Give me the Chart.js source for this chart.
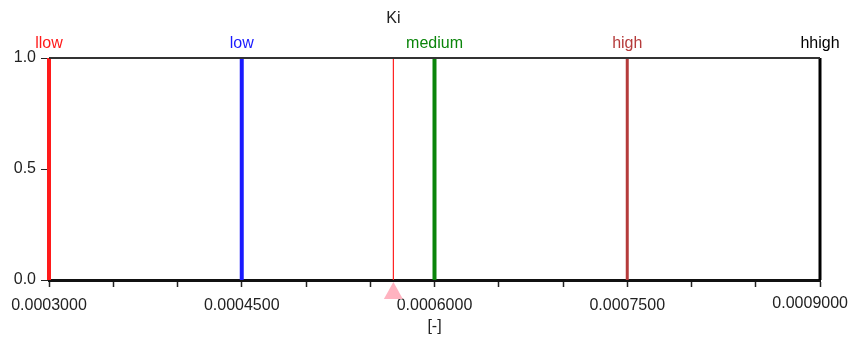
<!DOCTYPE html>
<html>
<head>
<meta charset="utf-8">
<script src="https://cdn.jsdelivr.net/npm/chart.js@4"></script>
<style>
  body { margin: 0; background: #fff; }
  #wrap { width: 850px; height: 338px; }
</style>
</head>
<body>
<div id="wrap"><canvas id="ki-chart"></canvas></div>
<script>
// Ki membership singletons
const setNames = ["llow", "low", "medium", "high", "hhigh"];
const setValues = [0.0003, 0.00045, 0.0006, 0.00075, 0.0009];
const setColors = ["#ff1a1a", "#1a1aff", "#0a850a", "#b53b3b", "#000000"];
const setWidths = [4, 4, 4, 3, 3];

// current value marker
const currentName = "Ki";
const currentValue = 0.000568;

const xMin = 0.0003, xMax = 0.0009, xStep = 0.00005;
const yTicks = [0, 0.5, 1];

const fontFamily = "'Liberation Sans', Arial, sans-serif";

const datasets = setValues.map((v, i) => ({
    label: setNames[i],
    data: [{ x: v, y: 0 }, { x: v, y: 1 }],
    borderColor: setColors[i],
    backgroundColor: setColors[i],
    borderWidth: setWidths[i],
    pointRadius: 0,
    showLine: true,
    clip: false,
}));

datasets.push({
    label: currentName,
    data: [{ x: currentValue, y: 0 }, { x: currentValue, y: 1 }],
    borderColor: "#ff2020",
    borderWidth: 1.2,
    pointRadius: 0,
    showLine: true,
    clip: false,
});

// labels above lines, top border, pink marker, last x label
const labelPlugin = {
    id: "labels",
    afterDraw(chart) {
        const { ctx, chartArea, scales } = chart;
        ctx.save();
        ctx.strokeStyle = "#333";
        ctx.lineWidth = 2;
        ctx.beginPath();
        ctx.moveTo(chartArea.left, chartArea.top);
        ctx.lineTo(chartArea.right, chartArea.top);
        ctx.stroke();

        ctx.font = "16px " + fontFamily;
        ctx.textAlign = "center";
        ctx.textBaseline = "middle";
        setNames.forEach((n, i) => {
            ctx.fillStyle = setColors[i];
            ctx.fillText(n, scales.x.getPixelForValue(setValues[i]), 44);
        });
        ctx.fillStyle = "#222";
        ctx.fillText(currentName, scales.x.getPixelForValue(currentValue), 19);

        // last tick label, pulled inside the canvas
        ctx.textAlign = "right";
        ctx.fillText(xMax.toFixed(7), chart.width - 2, 304);

        // triangle under the axis at the current value
        const cx = scales.x.getPixelForValue(currentValue);
        const yb = scales.y.getPixelForValue(0);
        ctx.fillStyle = "#ffb3c0";
        ctx.beginPath();
        ctx.moveTo(cx, yb + 2);
        ctx.lineTo(cx + 9.5, yb + 19);
        ctx.lineTo(cx - 9.5, yb + 19);
        ctx.closePath();
        ctx.fill();
        ctx.restore();
    }
};

new Chart(document.getElementById("ki-chart"), {
    type: "scatter",
    data: { datasets },
    options: {
        responsive: true,
        maintainAspectRatio: false,
        animation: false,
        layout: { padding: { top: 58, right: 30, left: 0, bottom: 0 } },
        plugins: { legend: { display: false }, tooltip: { enabled: false } },
        scales: {
            x: {
                type: "linear",
                min: xMin,
                max: xMax,
                ticks: {
                    stepSize: xStep,
                    autoSkip: false,
                    maxRotation: 0,
                    padding: 9,
                    color: "#222",
                    font: { family: fontFamily, size: 16 },
                    callback: (v, i, all) => (i % 3 === 0 && i !== all.length - 1 ? Number(v).toFixed(7) : "")
                },
                grid: { drawOnChartArea: false, color: "#222", tickLength: 7, tickWidth: 1.5 },
                border: { color: "#111", width: 3 },
                title: {
                    display: true,
                    text: "[-]",
                    color: "#222",
                    font: { family: fontFamily, size: 16 },
                    padding: { top: 0, bottom: 2 }
                },
                afterFit(scale) {
                    scale.height = 58;
                    scale.paddingLeft = 0;
                    scale.paddingRight = 0;
                }
            },
            y: {
                min: 0,
                max: 1,
                afterBuildTicks(scale) {
                    scale.ticks = yTicks.map(v => ({ value: v }));
                },
                ticks: {
                    padding: 5,
                    color: "#222",
                    font: { family: fontFamily, size: 16 },
                    callback: v => Number(v).toFixed(1)
                },
                grid: { drawOnChartArea: false, color: "#222", tickLength: 8 },
                border: { display: false },
                afterFit(scale) {
                    scale.width = 49;
                    scale.paddingTop = 0;
                    scale.paddingBottom = 0;
                }
            }
        }
    },
    plugins: [labelPlugin]
});
</script>
</body>
</html>
